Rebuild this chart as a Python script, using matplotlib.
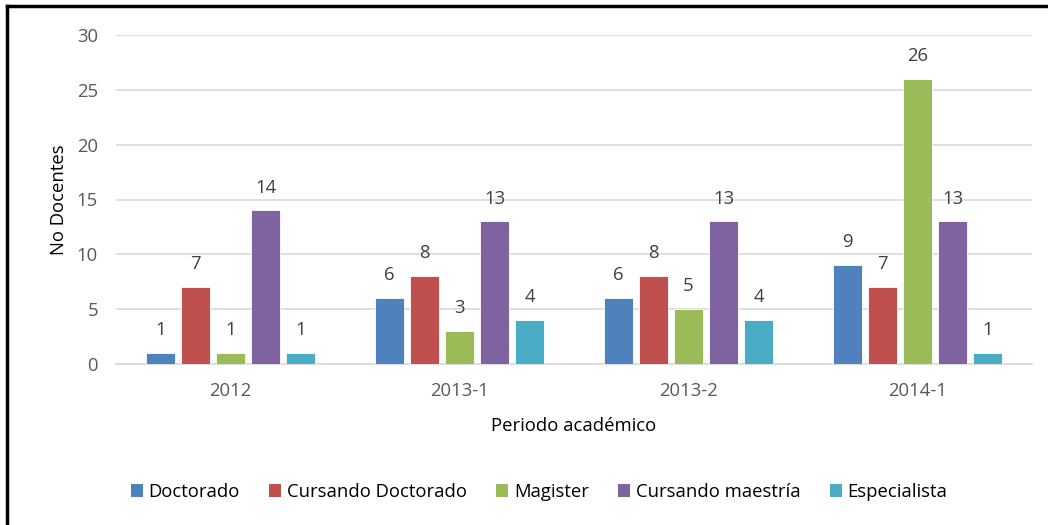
import matplotlib
matplotlib.use("Agg")
import matplotlib.pyplot as plt
import numpy as np
from matplotlib.patches import Patch
from matplotlib.lines import Line2D

categories = ["2012", "2013-1", "2013-2", "2014-1"]
series_names = ["Doctorado", "Cursando Doctorado", "Magister", "Cursando maestría", "Especialista"]
doctorado = [1, 6, 6, 9]
cursando_doctorado = [7, 8, 8, 7]
magister = [1, 3, 5, 26]
cursando_maestria = [14, 13, 13, 13]
especialista = [1, 4, 4, 1]
series_values = [doctorado, cursando_doctorado, magister, cursando_maestria, especialista]
colors = ["#4F81BD", "#C0504D", "#9BBB59", "#8064A2", "#4BACC6"]

plt.rcParams['font.family'] = ['Open Sans', 'DejaVu Sans']
txt = "#595959"
fs = 13.3

fig = plt.figure(figsize=(10.48, 5.25), dpi=100)
ax = fig.add_axes([116/1048, 1-364/525, (1032-116)/1048, (364-35)/525])

x = np.arange(len(categories))
step = 0.153
bw = 0.125
for i, (vals, c) in enumerate(zip(series_values, colors)):
    pos = x + (i - 2) * step
    ax.bar(pos, vals, width=bw, color=c, edgecolor="white", linewidth=0.6, zorder=3)
    for p, v in zip(pos, vals):
        ax.annotate(str(v), (p, v), xytext=(0, 10), textcoords="offset points",
                    ha="center", va="bottom", fontsize=fs, color="#404040")

ax.set_xlim(-0.5, len(categories) - 0.5)
ax.set_ylim(0, 30)
ax.set_yticks(range(0, 31, 5))
ax.set_xticks(x)
ax.set_xticklabels(categories)
ax.tick_params(axis="both", length=0, labelsize=fs, labelcolor=txt)
ax.tick_params(axis="y", pad=13)
ax.tick_params(axis="x", pad=13)
ax.grid(axis="y", color="#D9D9D9", linewidth=1.2, zorder=0)
for s in ["top", "right", "left"]:
    ax.spines[s].set_visible(False)
ax.spines["bottom"].set_color("#D9D9D9")
ax.spines["bottom"].set_linewidth(1.2)

ax.set_xlabel("Periodo académico", fontsize=fs, color="black", labelpad=12)
ax.set_ylabel("No Docentes", fontsize=fs, color="black", labelpad=6)

handles = [Patch(facecolor=c, edgecolor="none") for c in colors]
fig.legend(handles, series_names, loc="center", bbox_to_anchor=(539/1048, 1-492/525),
           ncol=5, frameon=False, fontsize=fs, handlelength=0.65, handleheight=0.65,
           handletextpad=0.3, columnspacing=1.6)

# chart border (left and top visible)
fig.add_artist(Line2D([7/1048, 7/1048], [0, 1-6/525], color="black", linewidth=2.5, transform=fig.transFigure))
fig.add_artist(Line2D([7/1048, 1], [1-6/525, 1-6/525], color="black", linewidth=2.5, transform=fig.transFigure))

fig.savefig("out.png", dpi=100, facecolor="white")
